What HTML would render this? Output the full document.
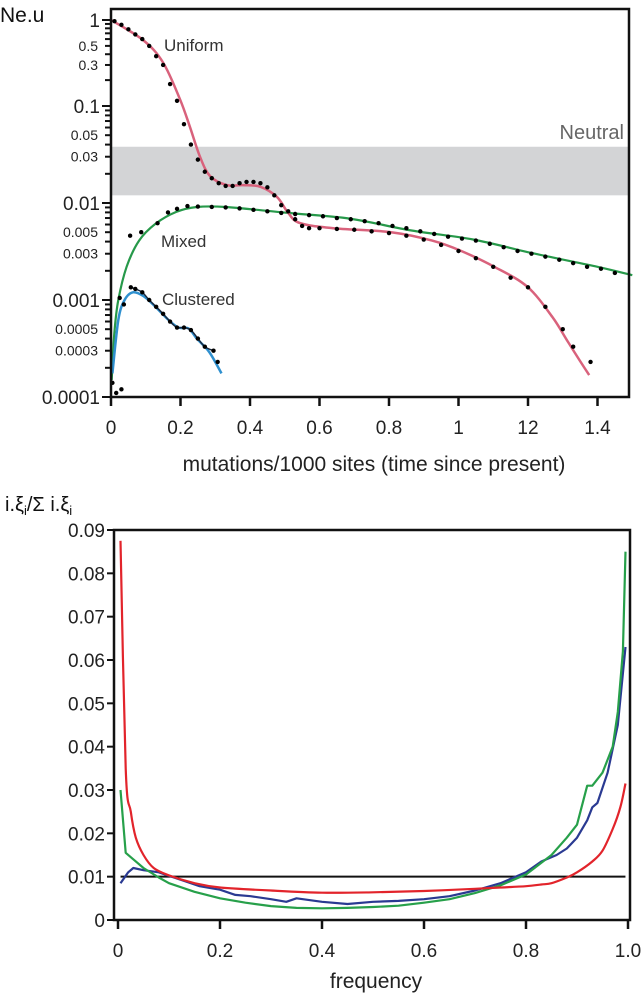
<!DOCTYPE html>
<html><head><meta charset="utf-8"><style>
html,body{margin:0;padding:0;background:#fff;}
svg{display:block;font-family:"Liberation Sans",sans-serif;}
</style></head><body>
<svg id="fig" width="644" height="997" viewBox="0 0 644 997" xmlns="http://www.w3.org/2000/svg"></svg>
<script>
// ---------- TOP CHART DATA ----------
const uniX = [0,0.092,0.15,0.199,0.227,0.256,0.285,0.333,0.38,0.43,0.478,0.51,0.544,0.64,0.806,0.924,1.008,1.103,1.198,1.27,1.317,1.376];
const uniY = [1.0,0.585,0.32,0.118,0.061,0.03,0.019,0.0153,0.0153,0.0147,0.0115,0.0079,0.0062,0.0055,0.005,0.0041,0.0032,0.0022,0.00137,0.00067,0.00036,0.000168];
const uniDotX = [0.01,0.03,0.05,0.07,0.09,0.11,0.13,0.15,0.17,0.19,0.21,0.23,0.25,0.27,0.29,0.31,0.33,0.35,0.37,0.39,0.41,0.43,0.45,0.47,0.49,0.51,0.53,0.55,0.57,0.6,0.65,0.7,0.75,0.8,0.85,0.9,0.95,1.0,1.05,1.1,1.15,1.2,1.25,1.3,1.33,1.38];
const uniDotY = [0.97,0.88,0.78,0.68,0.6,0.5,0.38,0.3,0.18,0.115,0.065,0.04,0.028,0.021,0.018,0.016,0.015,0.015,0.016,0.0165,0.0165,0.016,0.0145,0.012,0.0095,0.0082,0.0068,0.0058,0.0055,0.0055,0.0054,0.0053,0.0051,0.0049,0.0046,0.0042,0.0037,0.0032,0.0027,0.0022,0.0017,0.00135,0.00085,0.0005,0.00033,0.00023];
const mixX = [0.002,0.0095,0.021,0.045,0.081,0.128,0.188,0.247,0.33,0.509,0.687,0.865,1.042,1.22,1.4,1.5];
const mixY = [0.00015,0.00045,0.001,0.0022,0.0041,0.0061,0.0081,0.0091,0.0091,0.0079,0.0069,0.0052,0.0042,0.003,0.0022,0.0018];
const mixDotX = [0.055,0.087,0.134,0.164,0.19,0.22,0.25,0.29,0.33,0.37,0.41,0.45,0.49,0.53,0.57,0.61,0.65,0.69,0.73,0.77,0.81,0.85,0.89,0.93,0.97,1.01,1.05,1.09,1.13,1.17,1.21,1.25,1.29,1.33,1.37,1.41,1.45];
const mixDotY = [0.0046,0.005,0.0062,0.008,0.0087,0.0093,0.0092,0.0091,0.009,0.0088,0.0085,0.0082,0.0079,0.0077,0.0075,0.0073,0.007,0.0068,0.0065,0.0062,0.0058,0.0055,0.0051,0.0048,0.0045,0.0043,0.0041,0.0038,0.0035,0.0032,0.003,0.0028,0.0026,0.0024,0.0022,0.0021,0.0019];
const cluX = [0.004,0.021,0.039,0.063,0.093,0.128,0.164,0.194,0.223,0.247,0.283,0.318];
const cluY = [0.000175,0.00062,0.001,0.0012,0.0011,0.00085,0.00063,0.00052,0.00051,0.0004,0.00029,0.000175];
const cluDotX = [0.004,0.015,0.03,0.025,0.037,0.057,0.07,0.09,0.11,0.13,0.15,0.17,0.19,0.21,0.23,0.25,0.27,0.295,0.307];
const cluDotY = [0.00014,0.00011,0.00012,0.00105,0.0009,0.00135,0.0013,0.0012,0.001,0.00085,0.00072,0.0006,0.00052,0.00052,0.00049,0.0004,0.00033,0.0003,0.00023];
const neutralBand = [0.012,0.038];
const topXTicks = [0,0.2,0.4,0.6,0.8,1.0,1.2,1.4];
const topXTickLabels = ["0","0.2","0.4","0.6","0.8","1","12","1.4"];
const topYMajor = [1,0.1,0.01,0.001,0.0001];
const topYMajorLabels = ["1","0.1","0.01","0.001","0.0001"];
const topYMinor = [0.5,0.3,0.05,0.03,0.005,0.003,0.0005,0.0003];
const topYMinorLabels = ["0.5","0.3","0.05","0.03","0.005","0.003","0.0005","0.0003"];

// ---------- BOTTOM CHART DATA ----------
const redX = [0.005,0.015,0.025,0.035,0.05,0.07,0.1,0.15,0.2,0.3,0.4,0.5,0.6,0.7,0.75,0.8,0.83,0.85,0.88,0.9,0.93,0.95,0.97,0.985,0.995];
const redY = [0.0875,0.035,0.025,0.019,0.015,0.012,0.0103,0.0085,0.0075,0.0068,0.0063,0.0064,0.0067,0.0072,0.0075,0.0078,0.0082,0.0085,0.0098,0.011,0.0135,0.016,0.021,0.026,0.0315];
const greenX = [0.005,0.015,0.03,0.05,0.08,0.1,0.15,0.2,0.25,0.3,0.35,0.4,0.45,0.5,0.55,0.6,0.65,0.7,0.75,0.8,0.85,0.88,0.9,0.92,0.93,0.95,0.97,0.98,0.99,0.995];
const greenY = [0.030,0.0155,0.014,0.012,0.0098,0.0085,0.0065,0.005,0.004,0.0032,0.0028,0.0027,0.0028,0.003,0.0033,0.004,0.0048,0.0062,0.008,0.0105,0.015,0.019,0.022,0.031,0.031,0.034,0.040,0.048,0.062,0.085];
const blueX = [0.005,0.02,0.03,0.05,0.08,0.1,0.13,0.16,0.2,0.23,0.26,0.3,0.33,0.35,0.4,0.45,0.5,0.55,0.6,0.65,0.7,0.75,0.8,0.83,0.86,0.88,0.9,0.92,0.93,0.94,0.96,0.98,0.995];
const blueY = [0.0085,0.011,0.012,0.0115,0.011,0.0102,0.009,0.0078,0.007,0.0058,0.0055,0.0048,0.0042,0.005,0.0042,0.0037,0.0042,0.0044,0.0048,0.0055,0.0068,0.0085,0.011,0.0135,0.015,0.0165,0.019,0.023,0.026,0.027,0.034,0.045,0.063];
const refLine = [0.01];
const botXTicks = [0,0.2,0.4,0.6,0.8,1.0];
const botXTickLabels = ["0","0.2","0.4","0.6","0.8","1.0"];
const botYTicks = [0,0.01,0.02,0.03,0.04,0.05,0.06,0.07,0.08,0.09];
const botYTickLabels = ["0","0.01","0.02","0.03","0.04","0.05","0.06","0.07","0.08","0.09"];

const NS = "http://www.w3.org/2000/svg";
const svg = document.getElementById('fig');
function mk(tag, attrs, parent, text){
  const e = document.createElementNS(NS, tag);
  for (const k in attrs) e.setAttribute(k, attrs[k]);
  if (text !== undefined) e.textContent = text;
  (parent || svg).appendChild(e);
  return e;
}
const tL=111, tR=629, tT=9, tB=397;
function tx(v){ return 111 + v/0.2*69.5; }
const decV=[-4,-3,-2,-1,0], decP=[397,300,203,106,20];
function ty(v){
  const l = Math.log10(v);
  let i = 0;
  while (i < 3 && l > decV[i+1]) i++;
  return decP[i] + (l-decV[i])*(decP[i+1]-decP[i]);
}
function path(xs, ys, fx, fy, smooth){
  const P = xs.map((x,i)=>[fx(x), fy(ys[i])]);
  if (!smooth) return P.map((p,i)=>(i?'L':'M')+p[0].toFixed(1)+' '+p[1].toFixed(1)).join(' ');
  let d = 'M'+P[0][0].toFixed(1)+' '+P[0][1].toFixed(1);
  for (let i=0;i<P.length-1;i++){
    const p0=P[Math.max(0,i-1)], p1=P[i], p2=P[i+1], p3=P[Math.min(P.length-1,i+2)];
    const c1=[p1[0]+(p2[0]-p0[0])/6, p1[1]+(p2[1]-p0[1])/6];
    const c2=[p2[0]-(p3[0]-p1[0])/6, p2[1]-(p3[1]-p1[1])/6];
    d += ' C'+c1[0].toFixed(1)+' '+c1[1].toFixed(1)+' '+c2[0].toFixed(1)+' '+c2[1].toFixed(1)+' '+p2[0].toFixed(1)+' '+p2[1].toFixed(1);
  }
  return d;
}
let g = mk('g', {}, svg);


let band = mk('rect',{x:tL,y:ty(neutralBand[1]),width:tR-tL,height:ty(neutralBand[0])-ty(neutralBand[1]),fill:'#d3d4d6'},g);


let nt = mk('text',{x:624,y:139,'font-size':20,fill:'#666','text-anchor':'end'},g,'Neutral');


function series(xs,ys,col,w,name,parent,fx,fy,smooth){
  const p = mk('path',{d:path(xs,ys,fx,fy,smooth),fill:'none',stroke:col,'stroke-width':w,'stroke-linejoin':'round'},parent);
  
  
}
function dots(xs,ys,name,parent){
  const gg = mk('g',{},parent);
  
  
  xs.forEach((x,i)=>{ mk('circle',{cx:tx(x),cy:ty(ys[i]),r:2.2,fill:'#000'},gg); });
}
series(mixX,mixY,'#27994a',2.2,'mixed-line',g,tx,ty,true);
series(uniX,uniY,'#d9627c',2.5,'uniform-line',g,tx,ty,true);
series(cluX,cluY,'#2f90cf',2.5,'clustered-line',g,tx,ty,true);
series(cluDotX.slice(5,18),cluDotY.slice(5,18),'#1a2a40',1.5,'clustered-fit-line',g,tx,ty,true);
dots(uniDotX,uniDotY,'uniform-dots',g);
dots(mixDotX,mixDotY,'mixed-dots',g);
dots(cluDotX,cluDotY,'clustered-dots',g);
const lbls=[['Uniform',164,51,'uniform-label'],['Mixed',161,247,'mixed-label'],['Clustered',162,305,'clustered-label']];
lbls.forEach(l=>{ const t=mk('text',{x:l[1],y:l[2],'font-size':17,fill:'#333'},g,l[0]);
  
   });
mk('rect',{x:tL,y:tT,width:tR-tL,height:tB-tT,fill:'none',stroke:'#111','stroke-width':2.5},g);
for(let d=-4; d<0; d++){
  for(let m=1;m<10;m++){
    const v=m*Math.pow(10,d); const y=ty(v);
    mk('line',{x1:tL-(m===1?9:6),x2:tL,y1:y,y2:y,stroke:'#111','stroke-width':2},g);
  }
}
mk('line',{x1:tL-9,x2:tL,y1:ty(1),y2:ty(1),stroke:'#111','stroke-width':2},g);
topYMajor.forEach((v,i)=>{ const t=mk('text',{x:tL-11,y:ty(v)+7,'font-size':19,'text-anchor':'end',fill:'#222'},g,topYMajorLabels[i]);
  
   });
topYMinor.forEach((v,i)=>{ const t=mk('text',{x:tL-13,y:ty(v)+5,'font-size':14,'text-anchor':'end',fill:'#222'},g,topYMinorLabels[i]);
  
   });
topXTicks.forEach((v,i)=>{ const x=tx(v);
  mk('line',{x1:x,x2:x,y1:tB,y2:tB+9,stroke:'#111','stroke-width':2.5},g);
  const t=mk('text',{x:x,y:tB+37,'font-size':19,'text-anchor':'middle',fill:'#222'},g,topXTickLabels[i]);
  
   });
let xt=mk('text',{x:374,y:471,'font-size':21,'text-anchor':'middle',fill:'#222'},g,'mutations/1000 sites (time since present)');


let yt=mk('text',{x:0,y:22,'font-size':21,fill:'#111'},g,'Ne.u');



const bL=114,bR=630,bT=530,bB=920;
function bx(v){ return 118 + v*510; }
function by(v){ return 920 - v/0.09*390; }
let g2 = mk('g',{},svg);


mk('rect',{x:bL,y:bT,width:bR-bL,height:bB-bT,fill:'none',stroke:'#111','stroke-width':2.5},g2);
let rl = mk('line',{x1:bx(0.005),x2:bx(0.995),y1:by(refLine[0]),y2:by(refLine[0]),stroke:'#111','stroke-width':2},g2);


series(blueX,blueY,'#2a3a92',2.2,'blue-sfs-line',g2,bx,by,false);
series(greenX,greenY,'#27a04a',2.2,'green-sfs-line',g2,bx,by,false);
series(redX,redY,'#e2242b',2.2,'red-sfs-line',g2,bx,by,true);
botYTicks.forEach((v,i)=>{ const y=by(v);
  mk('line',{x1:bL-7,x2:bL,y1:y,y2:y,stroke:'#111','stroke-width':2},g2);
  const t=mk('text',{x:bL-9,y:y+7,'font-size':19,'text-anchor':'end',fill:'#222'},g2,botYTickLabels[i]);
  
   });
botXTicks.forEach((v,i)=>{ const x=bx(v);
  mk('line',{x1:x,x2:x,y1:bB,y2:bB+9,stroke:'#111','stroke-width':2.5},g2);
  const t=mk('text',{x:x,y:bB+37,'font-size':19,'text-anchor':'middle',fill:'#222'},g2,botXTickLabels[i]);
  
   });
let fx=mk('text',{x:376,y:988,'font-size':21,'text-anchor':'middle',fill:'#222'},g2,'frequency');


let fy=mk('text',{x:5,y:511,'font-size':20,fill:'#111'},g2);


mk('tspan',{},fy,'i.ξ'); mk('tspan',{'font-size':13,dy:4},fy,'i'); mk('tspan',{dy:-4},fy,'/Σ i.ξ'); mk('tspan',{'font-size':13,dy:4},fy,'i');
</script>
</body></html>
